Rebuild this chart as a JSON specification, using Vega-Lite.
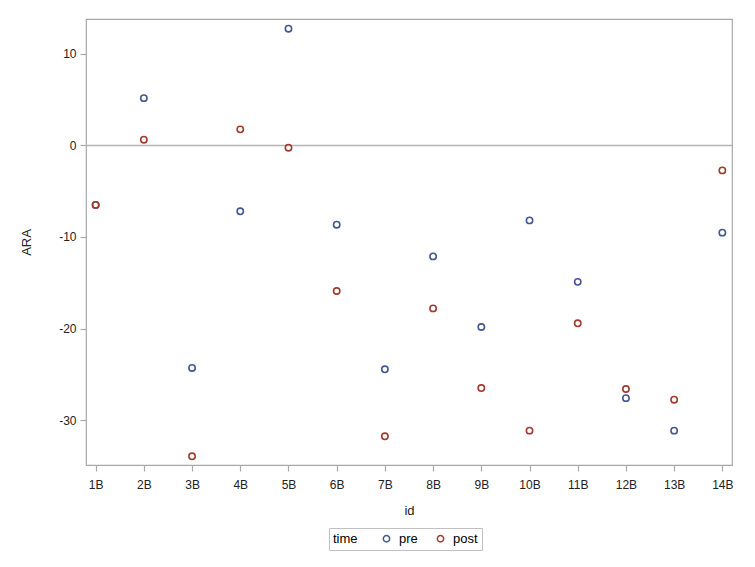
{
  "$schema": "https://vega.github.io/schema/vega-lite/v6.json",
  "width": 646,
  "height": 446,
  "autosize": "none",
  "padding": {"left": 86, "top": 19, "right": 23, "bottom": 102},
  "background": "white",
  "config": {
    "font": "Liberation Sans",
    "view": {"stroke": "#a8a8a8", "strokeWidth": 1.2},
    "axis": {
      "domain": false,
      "grid": false,
      "tickColor": "#a8a8a8",
      "tickSize": 6,
      "tickWidth": 1.2,
      "labelFont": "Liberation Sans",
      "labelFontSize": 12,
      "labelColor": "#222222",
      "titleFont": "Liberation Sans",
      "titleFontSize": 13,
      "titleFontWeight": "normal",
      "titleColor": "#222222"
    },
    "legend": {
      "labelFont": "Liberation Sans",
      "titleFont": "Liberation Sans"
    }
  },
  "layer": [
    {
      "data": {"values": [{"ref": 0}]},
      "mark": {"type": "rule", "color": "#b4b4b4", "strokeWidth": 1.5},
      "encoding": {"y": {"field": "ref", "type": "quantitative"}}
    },
    {
      "data": {
        "values": [
          {"id": "1B", "time": "pre", "ARA": -6.5},
          {"id": "2B", "time": "pre", "ARA": 5.16},
          {"id": "3B", "time": "pre", "ARA": -24.3},
          {"id": "4B", "time": "pre", "ARA": -7.2},
          {"id": "5B", "time": "pre", "ARA": 12.74},
          {"id": "6B", "time": "pre", "ARA": -8.66},
          {"id": "7B", "time": "pre", "ARA": -24.45},
          {"id": "8B", "time": "pre", "ARA": -12.12},
          {"id": "9B", "time": "pre", "ARA": -19.83},
          {"id": "10B", "time": "pre", "ARA": -8.19},
          {"id": "11B", "time": "pre", "ARA": -14.9},
          {"id": "12B", "time": "pre", "ARA": -27.6},
          {"id": "13B", "time": "pre", "ARA": -31.15},
          {"id": "14B", "time": "pre", "ARA": -9.53},
          {"id": "1B", "time": "post", "ARA": -6.5},
          {"id": "2B", "time": "post", "ARA": 0.62},
          {"id": "3B", "time": "post", "ARA": -33.95},
          {"id": "4B", "time": "post", "ARA": 1.75},
          {"id": "5B", "time": "post", "ARA": -0.25},
          {"id": "6B", "time": "post", "ARA": -15.9},
          {"id": "7B", "time": "post", "ARA": -31.77},
          {"id": "8B", "time": "post", "ARA": -17.8},
          {"id": "9B", "time": "post", "ARA": -26.5},
          {"id": "10B", "time": "post", "ARA": -31.15},
          {"id": "11B", "time": "post", "ARA": -19.43},
          {"id": "12B", "time": "post", "ARA": -26.6},
          {"id": "13B", "time": "post", "ARA": -27.77},
          {"id": "14B", "time": "post", "ARA": -2.73}
        ]
      },
      "mark": {"type": "point", "shape": "circle", "filled": false, "size": 40, "strokeWidth": 1.6, "opacity": 1},
      "encoding": {
        "x": {
          "field": "id",
          "type": "ordinal",
          "sort": ["1B","2B","3B","4B","5B","6B","7B","8B","9B","10B","11B","12B","13B","14B"],
          "scale": {"type": "point", "padding": 0.2},
          "axis": {"labelAngle": 0, "labelPadding": 8, "titlePadding": 14, "title": "id"}
        },
        "y": {
          "field": "ARA",
          "type": "quantitative",
          "scale": {"domain": [-34.9, 13.8], "nice": false, "zero": false},
          "axis": {"values": [-30, -20, -10, 0, 10], "labelExpr": "replace(datum.label, '\u2212', '-')", "labelPadding": 4, "titlePadding": 25, "title": "ARA"}
        },
        "color": {
          "field": "time",
          "type": "nominal",
          "sort": ["pre", "post"],
          "scale": {"domain": ["pre", "post"], "range": ["#445694", "#A23A2E"]},
          "legend": {
            "orient": "none",
            "legendX": 243,
            "legendY": 509,
            "direction": "horizontal",
            "titleOrient": "left",
            "title": "time",
            "strokeColor": "#c0c0c0",
            "padding": 4,
            "symbolType": "circle",
            "symbolFillColor": "transparent",
            "symbolStrokeWidth": 1.5,
            "symbolSize": 40,
            "labelFontSize": 13,
            "titleFontSize": 13,
            "titleFontWeight": "normal",
            "titlePadding": 22,
            "columnPadding": 16,
            "labelOffset": 6
          }
        }
      }
    }
  ]
}
